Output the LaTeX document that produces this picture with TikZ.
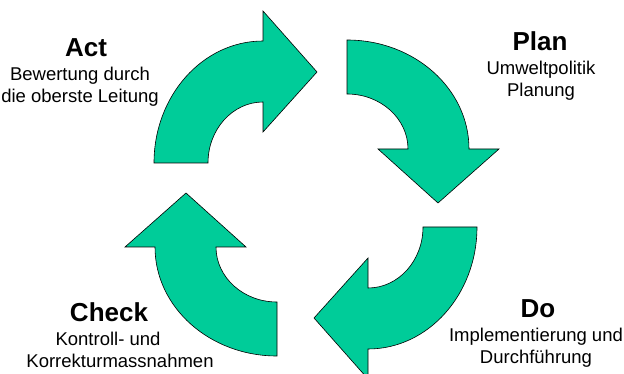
\documentclass[tikz,border=0pt]{standalone}
\usepackage{fontspec}
\setmainfont{Liberation Sans}
\usepackage{xcolor}

\definecolor{pdcagreen}{RGB}{0,204,153}

\tikzset{
  pdcaarrow/.style={fill=pdcagreen, draw=black, line width=0.6pt, line join=miter},
  phase/.style={inner sep=0pt, anchor=base, font=\fontsize{26}{30}\selectfont\bfseries},
  phasenote/.style={inner sep=0pt, anchor=base, align=center, font=\fontsize{18.5}{22}\selectfont}
}

\begin{document}
\begin{tikzpicture}[x=1pt, y=1pt]
        \useasboundingbox (0,0) rectangle (624,-374);

        % Act
        \filldraw [pdcaarrow] (154,-163) arc[start angle=180, end angle=90, x radius=109, y radius=122]
            -- (263,-11) -- (317,-72) -- (263,-132) -- (263,-102)
            arc[start angle=90, end angle=180, x radius=55, y radius=61] -- cycle;
        % Plan
        \filldraw [pdcaarrow] (347,-40) arc[start angle=90, end angle=0, x radius=122, y radius=109]
            -- (499,-149) -- (438,-203) -- (378,-149) -- (408,-149)
            arc[start angle=0, end angle=90, x radius=61, y radius=55] -- cycle;
        % Do
        \filldraw [pdcaarrow] (477,-227) arc[start angle=0, end angle=-90, x radius=109, y radius=122]
            -- (368,-379) -- (314,-318) -- (368,-258) -- (368,-288)
            arc[start angle=-90, end angle=0, x radius=55, y radius=61] -- cycle;
        % Check
        \filldraw [pdcaarrow] (277,-356) arc[start angle=-90, end angle=-180, x radius=122, y radius=109]
            -- (125,-247) -- (186,-193) -- (246,-247) -- (216,-247)
            arc[start angle=180, end angle=270, x radius=61, y radius=55] -- cycle;

        % labels (base = last line)
        \node [phase] (act) at (86,-57) {Act};
        \node [phasenote] (actnote) at (80,-103) {Bewertung durch\\die oberste Leitung};
        \node [phase] (plan) at (540,-51) {Plan};
        \node [phasenote] (plannote) at (541,-97) {Umweltpolitik\\Planung};
        \node [phase] (do) at (538,-317) {Do};
        \node [phasenote] (donote) at (536,-363) {Implementierung und\\Durchführung};
        \node [phase] (check) at (109,-321) {Check};
        \node [phasenote] (checknote) at (120,-367) {Kontroll- und\hspace*{24pt}\\Korrekturmassnahmen};
    \end{tikzpicture}
\end{document}
